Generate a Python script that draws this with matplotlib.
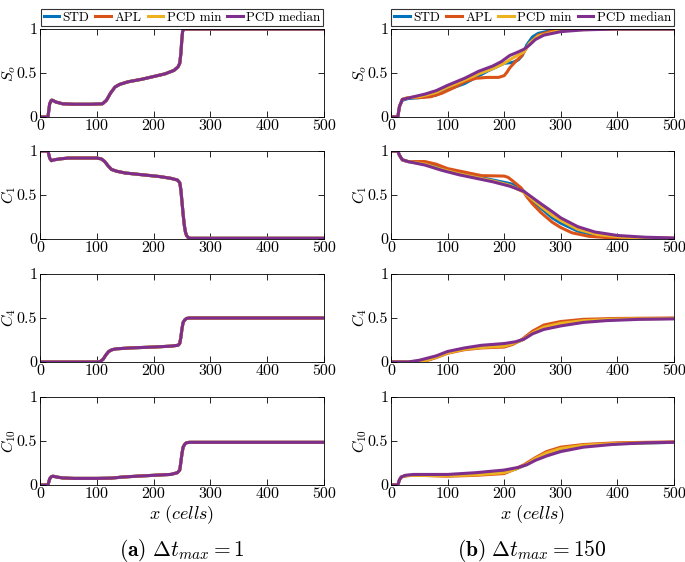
import matplotlib
matplotlib.use("Agg")
import matplotlib.pyplot as plt

plt.rcParams['font.family'] = 'cmr10'
plt.rcParams['mathtext.fontset'] = 'cm'
plt.rcParams['axes.formatter.use_mathtext'] = True

# colours (MATLAB default order)
c_std = '#0072BD'
c_apl = '#D95319'
c_min = '#EDB120'
c_med = '#7E2F8E'

series_names = ['STD', 'APL', 'PCD min', 'PCD median']
row_labels = ['$S_o$', '$C_1$', '$C_4$', '$C_{10}$']
xticks = [0, 100, 200, 300, 400, 500]
yticks = [0, 0.5, 1]
ytick_labels = ['0', '0.5', '1']

#---------------- (a) dt_max = 1 : all four runs overlap ----------------
a_so_x = [0, 14, 17, 20, 22, 28, 40, 60, 90, 110, 117, 124, 132, 140, 155, 180, 200, 220, 236, 243, 246, 248, 249.5, 251, 253, 300, 400, 500]
a_so_y = [0, 0, 0.15, 0.19, 0.19, 0.17, 0.15, 0.145, 0.145, 0.15, 0.19, 0.27, 0.34, 0.37, 0.40, 0.43, 0.46, 0.49, 0.53, 0.57, 0.61, 0.72, 0.86, 0.97, 1.0, 1.0, 1.0, 1.0]

a_c1_x = [0, 14, 17, 20, 25, 35, 50, 80, 100, 108, 114, 120, 126, 135, 150, 180, 210, 230, 242, 246, 248, 250, 252, 254, 256, 258, 261, 265, 300, 400, 500]
a_c1_y = [1.0, 1.0, 0.92, 0.89, 0.90, 0.91, 0.92, 0.92, 0.92, 0.91, 0.88, 0.83, 0.79, 0.77, 0.75, 0.73, 0.71, 0.69, 0.67, 0.64, 0.56, 0.42, 0.28, 0.16, 0.08, 0.04, 0.015, 0.008, 0.008, 0.008, 0.008]

a_c4_x = [0, 50, 100, 106, 111, 116, 121, 127, 135, 160, 200, 230, 243, 246, 248, 250, 252, 255, 258, 263, 300, 400, 500]
a_c4_y = [0, 0, 0, 0.005, 0.03, 0.08, 0.12, 0.14, 0.15, 0.16, 0.17, 0.18, 0.19, 0.21, 0.28, 0.38, 0.45, 0.48, 0.495, 0.50, 0.50, 0.50, 0.50]

a_c10_x = [0, 14, 17, 20, 23, 30, 40, 60, 100, 125, 145, 170, 200, 230, 242, 246, 248, 250, 252, 255, 258, 263, 300, 400, 500]
a_c10_y = [0, 0, 0.07, 0.095, 0.10, 0.09, 0.08, 0.075, 0.075, 0.078, 0.09, 0.10, 0.11, 0.12, 0.14, 0.17, 0.26, 0.36, 0.43, 0.465, 0.48, 0.485, 0.485, 0.485, 0.485]

#---------------- (b) dt_max = 150 ----------------
# S_o
b_so_std_x = [0, 12, 15, 20, 30, 50, 80, 100, 130, 150, 170, 190, 200, 215, 225, 232, 240, 250, 260, 280, 300, 400, 500]
b_so_std_y = [0, 0, 0.12, 0.19, 0.21, 0.22, 0.25, 0.31, 0.38, 0.45, 0.52, 0.58, 0.61, 0.62, 0.65, 0.70, 0.82, 0.91, 0.95, 0.98, 0.995, 1.0, 1.0]
b_so_apl_x = [0, 12, 15, 20, 30, 50, 70, 90, 110, 130, 150, 170, 190, 200, 205, 210, 220, 230, 240, 250, 260, 280, 300, 330, 400, 500]
b_so_apl_y = [0, 0, 0.12, 0.20, 0.22, 0.22, 0.23, 0.27, 0.33, 0.40, 0.44, 0.45, 0.45, 0.47, 0.51, 0.56, 0.63, 0.69, 0.79, 0.87, 0.93, 0.97, 0.99, 1.0, 1.0, 1.0]
b_so_min_x = [0, 12, 15, 20, 30, 50, 80, 100, 130, 155, 180, 200, 215, 235, 245, 260, 290, 320, 400, 500]
b_so_min_y = [0, 0, 0.12, 0.20, 0.22, 0.23, 0.28, 0.34, 0.42, 0.49, 0.55, 0.61, 0.67, 0.74, 0.84, 0.92, 0.97, 0.99, 1.0, 1.0]
b_so_med_x = [0, 12, 15, 20, 40, 60, 80, 100, 130, 155, 180, 195, 210, 225, 235, 245, 255, 270, 300, 340, 400, 500]
b_so_med_y = [0, 0, 0.12, 0.20, 0.23, 0.26, 0.30, 0.36, 0.44, 0.52, 0.58, 0.63, 0.70, 0.74, 0.77, 0.82, 0.88, 0.93, 0.97, 0.99, 1.0, 1.0]

# C_1
b_c1_std_x = [0, 12, 15, 20, 30, 60, 90, 120, 150, 180, 210, 225, 235, 245, 265, 285, 300, 330, 370, 420, 500]
b_c1_std_y = [1.0, 1.0, 0.95, 0.90, 0.88, 0.86, 0.80, 0.75, 0.71, 0.67, 0.63, 0.60, 0.54, 0.47, 0.35, 0.24, 0.18, 0.09, 0.03, 0.01, 0.005]
b_c1_apl_x = [0, 12, 15, 20, 30, 60, 80, 100, 130, 160, 200, 207, 215, 230, 240, 250, 265, 285, 300, 320, 350, 400, 500]
b_c1_apl_y = [1.0, 1.0, 0.95, 0.90, 0.88, 0.88, 0.85, 0.80, 0.76, 0.72, 0.715, 0.70, 0.66, 0.58, 0.48, 0.40, 0.30, 0.19, 0.13, 0.07, 0.03, 0.008, 0.0]
b_c1_min_x = [0, 12, 15, 20, 30, 60, 90, 120, 150, 180, 210, 235, 250, 265, 285, 300, 330, 365, 410, 460, 500]
b_c1_min_y = [1.0, 1.0, 0.95, 0.90, 0.88, 0.85, 0.79, 0.74, 0.70, 0.66, 0.61, 0.53, 0.45, 0.37, 0.27, 0.21, 0.11, 0.05, 0.02, 0.012, 0.01]
b_c1_med_x = [0, 12, 15, 20, 30, 60, 90, 120, 150, 180, 210, 235, 250, 265, 285, 300, 330, 360, 400, 450, 500]
b_c1_med_y = [1.0, 1.0, 0.95, 0.90, 0.88, 0.84, 0.78, 0.73, 0.69, 0.65, 0.60, 0.54, 0.47, 0.40, 0.31, 0.24, 0.14, 0.08, 0.04, 0.02, 0.012]

# C_4
b_c4_std_x = [0, 35, 60, 80, 100, 130, 160, 200, 215, 232, 250, 270, 300, 340, 400, 500]
b_c4_std_y = [0, 0, 0.02, 0.06, 0.11, 0.15, 0.17, 0.19, 0.21, 0.25, 0.33, 0.39, 0.44, 0.47, 0.49, 0.495]
b_c4_apl_x = [0, 40, 60, 80, 100, 130, 160, 200, 215, 230, 250, 270, 300, 340, 400, 500]
b_c4_apl_y = [0, 0, 0.01, 0.05, 0.10, 0.14, 0.16, 0.17, 0.20, 0.25, 0.35, 0.42, 0.46, 0.485, 0.495, 0.50]
b_c4_min_x = [0, 38, 60, 80, 100, 130, 160, 200, 215, 232, 250, 270, 300, 340, 400, 500]
b_c4_min_y = [0, 0, 0.015, 0.055, 0.105, 0.145, 0.165, 0.18, 0.21, 0.25, 0.33, 0.395, 0.44, 0.47, 0.488, 0.495]
b_c4_med_x = [0, 30, 50, 80, 100, 130, 160, 200, 220, 235, 250, 270, 300, 340, 380, 440, 500]
b_c4_med_y = [0, 0, 0.02, 0.07, 0.12, 0.16, 0.19, 0.21, 0.23, 0.26, 0.32, 0.37, 0.41, 0.45, 0.47, 0.485, 0.49]

# C_10
b_c10_std_x = [0, 12, 15, 18, 25, 40, 100, 150, 200, 220, 238, 255, 275, 300, 340, 400, 500]
b_c10_std_y = [0, 0, 0.06, 0.09, 0.105, 0.11, 0.11, 0.12, 0.15, 0.18, 0.23, 0.30, 0.36, 0.41, 0.45, 0.47, 0.485]
b_c10_apl_x = [0, 12, 15, 18, 30, 50, 100, 150, 200, 215, 235, 255, 275, 300, 340, 400, 500]
b_c10_apl_y = [0, 0, 0.06, 0.09, 0.11, 0.11, 0.10, 0.11, 0.13, 0.17, 0.23, 0.31, 0.38, 0.43, 0.46, 0.48, 0.49]
b_c10_min_x = [0, 12, 15, 18, 25, 40, 100, 150, 200, 220, 238, 255, 275, 300, 340, 400, 500]
b_c10_min_y = [0, 0, 0.06, 0.09, 0.105, 0.11, 0.105, 0.115, 0.14, 0.18, 0.23, 0.30, 0.365, 0.415, 0.452, 0.473, 0.485]
b_c10_med_x = [0, 12, 15, 18, 25, 40, 100, 150, 200, 225, 240, 255, 275, 300, 340, 390, 450, 500]
b_c10_med_y = [0, 0, 0.06, 0.09, 0.11, 0.12, 0.12, 0.14, 0.17, 0.20, 0.23, 0.28, 0.33, 0.38, 0.43, 0.46, 0.48, 0.485]

left_data = [(a_so_x, a_so_y), (a_c1_x, a_c1_y), (a_c4_x, a_c4_y), (a_c10_x, a_c10_y)]
right_data = [
    [(b_so_std_x, b_so_std_y), (b_so_apl_x, b_so_apl_y), (b_so_min_x, b_so_min_y), (b_so_med_x, b_so_med_y)],
    [(b_c1_std_x, b_c1_std_y), (b_c1_apl_x, b_c1_apl_y), (b_c1_min_x, b_c1_min_y), (b_c1_med_x, b_c1_med_y)],
    [(b_c4_std_x, b_c4_std_y), (b_c4_apl_x, b_c4_apl_y), (b_c4_min_x, b_c4_min_y), (b_c4_med_x, b_c4_med_y)],
    [(b_c10_std_x, b_c10_std_y), (b_c10_apl_x, b_c10_apl_y), (b_c10_min_x, b_c10_min_y), (b_c10_med_x, b_c10_med_y)],
]
colors = [c_std, c_apl, c_min, c_med]

fig = plt.figure(figsize=(6.85, 5.62), dpi=100)

col_x = [40 / 685, 391 / 685]
col_w = [284 / 685, 283 / 685]
row_bottom_px = [117, 239, 362, 485]
row_h = 88 / 562


def style_axis(ax, label, bottom_row):
    ax.set_xlim(0, 500)
    ax.set_ylim(0, 1)
    ax.set_xticks(xticks)
    ax.set_xticklabels([str(t) for t in xticks])
    ax.set_yticks(yticks)
    ax.set_yticklabels(ytick_labels)
    ax.tick_params(direction='in', top=True, right=True, length=4, width=0.6, labelsize=11.5, pad=2)
    for s in ax.spines.values():
        s.set_linewidth(0.6)
    ax.set_ylabel(label, fontsize=11.5)
    ax.yaxis.set_label_coords(-0.077, 0.5)
    if bottom_row:
        ax.set_xlabel(r'$x\ (cells)$', fontsize=13, labelpad=1)


for r in range(4):
    for c in range(2):
        ax = fig.add_axes([col_x[c], 1 - row_bottom_px[r] / 562, col_w[c], row_h])
        if c == 0:
            xs, ys = left_data[r]
            for k in range(4):
                ax.plot(xs, ys, color=colors[k], lw=2.2, label=series_names[k])
        else:
            for k in range(4):
                xs, ys = right_data[r][k]
                ax.plot(xs, ys, color=colors[k], lw=2.2, label=series_names[k])
        style_axis(ax, row_labels[r], r == 3)
        if r == 0:
            leg = ax.legend(loc='lower center', bbox_to_anchor=(0.5, 1.03),
                            ncol=4, fontsize=9.5, frameon=True, fancybox=False, edgecolor='black',
                            handlelength=1.2, handletextpad=0.25, columnspacing=0.45,
                            borderpad=0.2, borderaxespad=0.0)
            leg.get_frame().set_linewidth(0.8)

fig.text(40 / 685 + 142 / 685, 1 - 550 / 562, r'$\mathbf{(a)}\ \Delta t_{max} = 1$',
         ha='center', va='center', fontsize=15.5)
fig.text(391 / 685 + 141 / 685, 1 - 550 / 562, r'$\mathbf{(b)}\ \Delta t_{max} = 150$',
         ha='center', va='center', fontsize=15.5)

fig.savefig('out.png', dpi=100)
